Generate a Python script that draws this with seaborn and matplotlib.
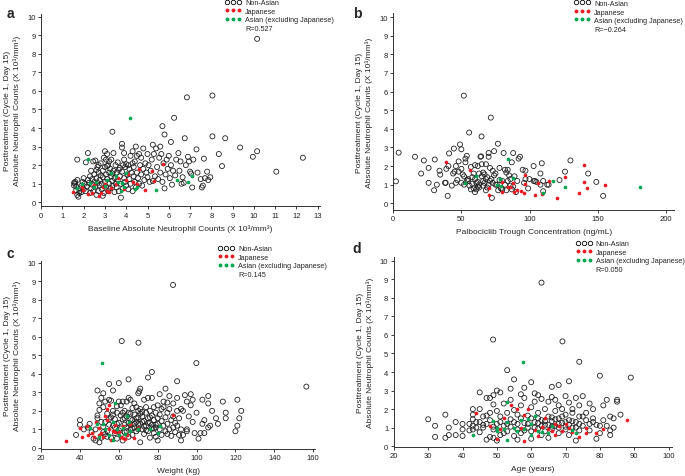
import pandas as pd
import matplotlib
matplotlib.use("Agg")
import matplotlib.pyplot as plt
from matplotlib.lines import Line2D
import seaborn as sns

# ---- panel a : baseline ANC vs posttreatment ANC ----
a_non_asian = [
    (1.55, 0.9), (1.6, 1.0), (1.6, 1.1), (1.65, 0.85), (1.7, 1.2), (1.7, 0.4), (1.75, 0.3), (1.8, 0.6),
    (1.8, 0.5), (1.85, 0.75), (1.9, 0.9), (1.95, 1.1), (1.9, 0.55), (2.0, 0.7), (2.0, 1.3), (1.55, 1.05),
    (1.65, 0.65), (2.05, 1.0), (2.1, 2.15), (2.1, 0.6), (2.15, 0.85), (2.2, 1.2), (2.25, 1.05), (2.3, 0.5),
    (2.3, 1.4), (2.35, 0.75), (2.4, 1.25), (2.4, 0.95), (2.45, 0.6), (2.5, 1.5), (2.5, 1.1), (2.45, 2.2),
    (2.55, 2.25), (2.2, 2.65), (1.7, 2.3), (2.35, 1.7), (2.55, 0.85), (2.6, 1.3), (2.6, 0.4), (2.65, 1.9),
    (2.65, 1.05), (2.7, 0.6), (2.7, 1.6), (2.75, 1.2), (2.75, 0.9), (2.8, 1.45), (2.8, 2.1), (2.85, 0.7),
    (2.85, 1.0), (2.9, 1.7), (2.9, 1.35), (2.95, 2.4), (2.95, 0.5), (3.0, 1.1), (3.0, 2.75), (3.0, 1.9),
    (2.9, 0.35), (2.6, 1.75), (2.7, 2.0), (3.05, 1.5), (3.05, 0.85), (3.1, 2.6), (3.1, 1.25), (3.15, 0.6),
    (3.15, 2.0), (3.2, 1.6), (3.2, 1.0), (3.25, 1.8), (3.25, 0.75), (3.3, 1.4), (3.3, 2.3), (3.35, 1.15),
    (3.35, 0.9), (3.4, 2.65), (3.4, 1.7), (3.45, 1.3), (3.45, 0.55), (3.5, 2.0), (3.5, 1.0), (3.1, 1.95),
    (3.2, 2.2), (3.35, 1.55), (3.05, 2.3), (3.55, 1.6), (3.55, 0.8), (3.6, 2.15), (3.6, 1.2), (3.65, 0.6),
    (3.7, 1.85), (3.7, 1.4), (3.75, 0.25), (3.75, 1.0), (3.8, 3.15), (3.8, 2.95), (3.8, 1.65), (3.85, 2.0),
    (3.85, 0.75), (3.9, 2.65), (3.9, 1.3), (3.95, 1.9), (3.95, 1.1), (4.0, 2.05), (4.0, 0.9), (3.65, 1.75),
    (3.9, 2.3), (4.05, 1.5), (4.1, 2.0), (4.1, 0.7), (4.15, 1.8), (4.15, 1.25), (4.2, 2.5), (4.2, 1.0),
    (4.25, 1.6), (4.3, 2.1), (4.3, 0.6), (4.35, 1.4), (4.35, 1.9), (4.4, 2.2), (4.4, 1.1), (4.45, 0.8),
    (4.5, 1.6), (4.5, 2.5), (4.45, 3.0), (4.3, 2.75), (4.55, 1.3), (4.6, 2.6), (4.6, 1.0), (4.65, 2.0),
    (4.7, 1.5), (4.7, 2.4), (4.75, 0.9), (4.8, 1.8), (4.8, 2.9), (4.85, 1.2), (4.9, 2.1), (4.95, 1.6),
    (5.0, 2.6), (5.0, 1.35), (5.05, 2.0), (5.1, 1.1), (5.15, 1.7), (5.2, 2.3), (5.25, 3.1), (5.3, 2.6),
    (5.35, 1.4), (5.4, 2.9), (5.45, 1.9), (5.5, 1.25), (5.55, 2.4), (5.6, 3.0), (5.6, 1.6), (5.65, 2.6),
    (5.7, 1.1), (5.75, 2.1), (5.8, 0.75), (5.85, 1.5), (5.9, 2.3), (5.95, 1.8), (5.7, 4.1), (5.8, 3.65),
    (5.25, 1.15), (6.0, 2.5), (6.05, 1.3), (6.1, 3.25), (6.1, 2.0), (6.15, 0.95), (6.2, 1.7), (6.25, 4.55),
    (6.3, 1.45), (6.35, 2.3), (6.45, 2.65), (6.5, 1.7), (6.55, 2.2), (6.6, 1.0), (6.65, 1.35), (6.7, 1.05),
    (6.75, 3.45), (6.8, 2.0), (6.85, 5.65), (6.9, 2.45), (6.95, 2.2), (3.35, 3.8), (7.0, 1.65), (7.05, 1.55),
    (7.1, 0.8), (7.15, 2.3), (7.3, 2.85), (7.35, 1.6), (7.5, 1.25), (7.55, 0.8), (7.6, 0.9), (7.65, 2.35),
    (7.7, 1.3), (7.8, 1.65), (7.85, 1.2), (7.95, 1.35), (8.05, 3.55), (8.05, 5.75), (8.35, 2.6), (8.5, 1.95),
    (8.65, 3.45), (9.35, 2.95), (9.95, 2.45), (10.15, 2.75), (10.15, 8.8), (11.05, 1.65), (12.3, 2.4),
]
a_japanese = [
    (1.5, 0.55), (1.9, 0.8), (1.95, 0.65), (2.2, 0.45), (2.4, 0.5), (2.5, 0.95), (2.7, 0.35), (2.8, 0.5),
    (2.9, 0.8), (3.1, 0.6), (3.2, 0.55), (3.0, 1.0), (3.3, 0.75), (3.6, 1.3), (3.9, 0.7), (4.0, 1.2),
    (4.3, 1.1), (4.6, 1.8), (4.9, 0.65), (5.2, 1.7), (5.3, 1.15), (5.75, 2.05), (4.1, 1.55), (3.5, 1.0),
    (2.6, 1.1), (4.5, 1.0),
]
a_asian = [
    (4.2, 4.55), (2.2, 2.35), (1.7, 0.75), (1.9, 1.0), (2.3, 1.05), (2.6, 1.1), (3.0, 0.9), (3.3, 1.6),
    (3.5, 1.4), (3.6, 1.1), (3.8, 1.05), (3.9, 0.85), (3.75, 0.6), (4.4, 0.7), (4.5, 0.85), (4.0, 1.6),
    (5.4, 0.65), (6.4, 1.2), (6.9, 1.1), (7.1, 1.4), (3.1, 1.2), (2.5, 0.8),
]

# ---- panel b : palbociclib trough concentration ----
b_non_asian = [
    (2, 1.18), (4, 2.72), (16, 2.5), (20.5, 1.6), (22.5, 2.3), (26, 1.9), (26, 1.1), (30.5, 2.35),
    (30, 0.7), (32, 1.0), (34, 1.75), (34.5, 1.54), (38, 1.1), (38.5, 1.1), (39, 1.85), (40, 0.4),
    (40.5, 2.0), (41, 2.68), (43, 0.95), (44, 1.6), (45, 1.7), (44.5, 2.94), (46, 1.1), (47, 1.25),
    (48, 2.25), (49, 3.16), (50, 2.9), (50, 1.85), (51, 1.55), (50, 1.1), (52, 1.0), (51.8, 5.78),
    (53, 2.2), (53, 2.4), (54, 2.55), (55, 1.2), (55, 1.3), (55.7, 3.8), (57, 0.75), (58, 1.4),
    (59, 0.8), (59, 1.6), (60, 0.6), (60, 2.05), (61, 1.1), (62, 0.9), (62, 2.0), (63, 1.0),
    (63, 0.85), (64, 2.5), (64.5, 2.52), (64.8, 3.59), (65, 2.1), (66, 1.65), (67, 1.1), (68, 2.1),
    (68, 1.3), (69, 1.4), (70, 2.5), (70, 2.7), (71, 1.9), (71.6, 4.6), (72, 1.3), (72.4, 0.29),
    (73, 1.1), (74, 2.8), (75, 1.6), (76, 1.0), (76.8, 3.2), (78, 1.9), (79, 0.8), (80, 0.75),
    (81, 2.7), (82, 1.8), (83, 0.7), (84, 1.2), (85, 1.5), (86, 0.95), (87, 2.2), (88, 2.7),
    (89, 1.45), (90, 0.6), (92, 2.4), (93, 2.5), (95, 1.8), (96, 1.1), (97, 1.3), (99, 0.8),
    (103, 2.0), (103, 1.2), (104, 1.2), (108, 1.0), (108, 1.6), (109, 2.15), (110, 0.65), (110, 1.2),
    (113, 1.0), (114, 1.0), (122, 1.25), (126, 1.7), (130, 2.3), (143, 1.6), (149, 1.15), (154, 0.4),
    (56, 0.95), (58, 1.05), (61, 0.75), (63, 1.6), (66, 0.95), (67, 1.55), (69, 0.85), (71, 1.2),
    (74, 1.5), (77, 0.7), (78, 1.25), (80, 1.2), (82, 1.0), (84, 1.8), (86, 1.3), (88, 0.9),
    (91, 1.2), (57, 1.95), (60, 1.3), (62, 1.15), (65, 1.45), (66, 1.2), (68, 0.7), (75, 1.0),
    (48, 1.7), (46, 2.0), (52, 1.45), (54, 1.25), (70, 1.0), (73, 1.75), (83, 1.65), (87, 0.75),
    (100, 1.3), (105, 1.15), (97, 1.75),
]
b_japanese = [
    (39, 2.2), (56, 1.8), (70, 0.8), (70.5, 0.45), (80, 0.6), (80, 1.15), (84, 0.9), (86, 0.85),
    (88, 1.1), (88.5, 0.6), (91, 0.7), (94, 0.65), (96, 0.55), (97, 1.5), (97, 1.05), (104, 0.45),
    (106, 1.1), (109, 0.5), (114, 1.2), (120, 0.3), (126, 1.4), (136, 0.55), (140, 2.05), (140, 1.15),
    (142, 0.8), (155, 1.0),
]
b_asian = [
    (53, 1.1), (61, 1.45), (76, 1.0), (78, 1.3), (79, 0.95), (84, 2.4), (88, 1.35), (110, 0.55),
    (117, 1.2), (126, 0.85), (181, 0.9),
]

# ---- panel c : weight ----
c_non_asian = [
    (87.9, 8.8), (61.5, 5.77), (70.1, 5.68), (99.9, 4.58), (77, 4.1), (75, 3.8), (65, 3.7), (60, 3.5),
    (55, 3.45), (90, 3.6), (84, 3.2), (71, 3.2), (70.5, 3.05), (49, 3.1), (52, 2.95), (156.5, 3.31),
    (57, 3.1), (51, 2.7), (50, 2.4), (121, 2.6), (122, 1.6), (123, 2.0), (121, 1.2), (120, 0.9),
    (113.5, 2.5), (115, 1.9), (115, 1.6), (110, 1.6), (111, 1.3), (108, 2.0), (106, 2.8), (106, 2.4),
    (103, 2.6), (104, 1.5), (107, 1.2), (106, 1.1), (104, 0.8), (102, 0.8), (101, 0.5), (99, 0.8),
    (98, 1.4), (97, 2.9), (98, 2.6), (97, 2.3), (96, 1.7), (95, 2.5), (94, 2.85), (93, 2.0),
    (92, 2.1), (95, 0.9), (95, 1.0), (93, 0.7), (92, 0.4), (100, 1.9), (103, 1.3), (38, 0.7),
    (40, 1.5), (40, 1.25), (42, 1.0), (44, 1.1), (45, 1.3), (46, 0.85), (47, 0.5), (48, 0.4),
    (48, 1.0), (49, 1.6), (49, 1.75), (50, 0.3), (50, 2.05), (51, 1.4), (51, 0.55), (52, 2.2),
    (52, 1.15), (53, 0.75), (53, 2.5), (54, 0.9), (54, 1.85), (55, 2.6), (55, 1.25), (56, 2.55),
    (56, 1.65), (56, 0.55), (57, 2.0), (57, 1.2), (58, 0.8), (58, 1.55), (59, 2.25), (59, 1.9),
    (59, 0.5), (60, 1.35), (60, 2.5), (61, 1.05), (61, 1.75), (61, 2.3), (62, 0.4), (62, 1.55),
    (62, 2.5), (63, 1.25), (63, 2.0), (63, 0.85), (64, 1.7), (64, 1.1), (64, 2.5), (65, 0.6),
    (65, 2.7), (65, 1.35), (66, 1.85), (66, 1.0), (66, 2.6), (67, 1.5), (67, 2.15), (67, 0.7),
    (68, 1.1), (68, 1.8), (68, 2.4), (69, 0.9), (69, 1.4), (70, 1.65), (70, 2.0), (70, 1.0),
    (70, 2.95), (71, 1.3), (71, 0.3), (71, 2.1), (72, 1.7), (72, 1.0), (72, 1.95), (73, 1.45),
    (73, 2.6), (73, 0.75), (74, 1.2), (74, 1.9), (74, 2.2), (75, 1.6), (75, 0.9), (75, 2.7),
    (76, 1.35), (76, 2.0), (76, 0.55), (77, 1.75), (77, 1.05), (77, 2.7), (78, 1.5), (78, 0.8),
    (78, 2.2), (79, 1.25), (79, 1.9), (79, 0.6), (80, 1.6), (80, 2.3), (80, 0.4), (81, 1.0),
    (81, 1.8), (81, 2.9), (82, 1.45), (82, 2.1), (82, 0.7), (83, 1.2), (83, 2.5), (84, 1.65),
    (84, 0.9), (85, 1.9), (85, 1.3), (85, 0.75), (86, 2.1), (86, 1.0), (86, 2.8), (87, 1.5),
    (87, 0.65), (88, 1.7), (88, 1.1), (88, 2.4), (89, 1.35), (89, 0.85), (90, 2.0), (90, 1.2),
    (91, 1.6), (91, 0.7), (92, 1.0), (90, 2.7), (85, 2.45), (83, 2.2), (66, 1.25), (69, 1.6),
    (71, 1.85), (73, 1.15), (75, 1.35), (77, 1.25), (79, 1.1), (58, 1.1), (60, 0.95), (62, 1.9),
    (64, 0.9), (66, 1.55), (68, 1.3), (70, 1.3), (72, 1.4), (74, 0.95), (76, 1.65), (78, 1.05),
    (80, 1.3), (57, 1.8), (59, 1.3), (61, 0.7), (63, 1.6), (65, 1.9), (67, 1.05), (69, 2.2),
    (55, 1.55), (53, 1.4), (54, 0.6), (52, 0.85),
]
c_japanese = [
    (33, 0.35), (40, 1.1), (41, 0.6), (43.5, 1.2), (44, 0.7), (46, 0.8), (47, 0.6), (48.5, 1.4),
    (50, 1.1), (50, 0.7), (51, 0.8), (52, 0.6), (53, 1.7), (54, 2.1), (54, 1.5), (55, 1.0),
    (55, 2.3), (56, 0.4), (57, 0.9), (58, 0.85), (58, 1.25), (61, 0.6), (62, 0.55), (62, 1.2),
    (63, 0.5), (64, 0.7), (66, 1.3), (68, 0.55), (70, 1.1), (88, 1.8), (60, 0.85),
]
c_asian = [
    (51.5, 4.6), (45, 1.1), (49, 1.3), (50, 0.6), (52, 1.3), (53, 1.0), (55, 0.7), (57, 0.4),
    (57, 1.4), (58, 2.4), (59, 1.0), (60, 0.7), (62, 1.1), (63, 0.75), (64, 1.7), (65, 1.4),
    (66, 0.9), (70, 1.0), (76, 1.0), (80, 0.8), (81, 1.2),
]

# ---- panel d : age ----
d_non_asian = [
    (63, 8.82), (48.9, 5.75), (69.1, 5.65), (74, 4.55), (53, 4.1), (55, 3.6), (60, 3.45), (71, 3.5),
    (80, 3.8), (89, 3.7), (66, 3.2), (68, 3.3), (58, 3.15), (45, 2.9), (50, 3.0), (51, 2.9),
    (48, 2.6), (47, 2.6), (49, 2.75), (54, 3.1), (61, 2.85), (62, 2.75), (57, 2.8), (30, 1.45),
    (32, 1.1), (32, 0.5), (35, 1.7), (35, 0.45), (36, 1.0), (36, 0.6), (38, 1.3), (38, 0.6),
    (40, 1.2), (40, 0.9), (40, 0.55), (42, 1.2), (43, 2.0), (43, 1.7), (43, 1.45), (43, 1.1),
    (43, 0.9), (44, 1.0), (45, 2.0), (45, 1.3), (45, 0.75), (46, 1.6), (47, 1.2), (47, 0.35),
    (48, 0.5), (49, 2.25), (49, 0.45), (50, 0.3), (46, 1.0), (47, 1.65), (48, 1.4), (49, 1.05),
    (50, 1.9), (50, 1.2), (51, 1.6), (51, 0.6), (52, 2.3), (52, 1.1), (53, 1.8), (53, 0.8),
    (54, 1.45), (54, 2.5), (55, 0.55), (55, 1.95), (56, 1.2), (56, 1.7), (56, 0.35), (57, 2.2),
    (57, 0.7), (58, 1.25), (58, 2.6), (59, 1.0), (59, 1.65), (60, 0.4), (60, 2.1), (60, 1.5),
    (61, 1.3), (61, 2.4), (62, 0.95), (62, 1.8), (63, 1.4), (63, 2.55), (63, 0.6), (64, 1.15),
    (64, 2.0), (65, 1.6), (65, 0.45), (65, 2.4), (66, 1.35), (66, 2.65), (66, 0.9), (67, 1.9),
    (67, 1.1), (67, 2.5), (68, 1.5), (68, 0.7), (68, 2.2), (69, 1.25), (69, 2.0), (70, 1.7),
    (70, 0.9), (70, 2.7), (71, 1.4), (71, 2.35), (71, 0.6), (72, 1.8), (72, 1.0), (72, 2.0),
    (73, 1.3), (73, 0.3), (73, 2.6), (74, 1.6), (74, 0.85), (74, 2.2), (75, 1.1), (75, 2.7),
    (75, 1.6), (76, 1.4), (76, 1.8), (77, 2.3), (77, 1.2), (77, 0.85), (78, 2.0), (78, 1.5),
    (78, 1.3), (79, 0.4), (80, 1.1), (81, 2.2), (82, 2.5), (83, 1.6), (83, 0.6), (83, 0.85),
    (84, 1.5), (84, 1.0), (85, 2.5), (85, 2.4), (86, 1.7), (59, 1.2), (61, 1.0), (62, 1.5),
    (64, 1.35), (66, 1.05), (68, 1.2), (70, 1.3), (72, 1.35), (74, 1.2), (57, 1.5), (55, 1.3),
    (53, 1.2), (51, 1.3), (49, 0.9), (58, 0.85), (60, 0.8), (62, 1.25), (64, 0.8), (66, 1.55),
    (68, 1.0), (70, 1.05), (67, 1.45), (63, 1.1), (65, 1.15), (69, 1.6), (71, 1.15), (73, 1.0),
    (56, 0.9), (54, 1.05), (52, 0.7), (44, 1.3), (42, 0.85), (46, 1.15), (48, 1.8), (79, 1.15),
    (80, 0.7), (81, 1.4), (82, 1.1),
]
d_japanese = [
    (44, 1.8), (48, 1.1), (50, 0.4), (51, 0.9), (52, 1.5), (54, 2.2), (56, 2.0), (57, 1.0),
    (58, 1.7), (58, 0.3), (59, 2.0), (61, 0.85), (62, 0.55), (63, 1.05), (64, 1.5), (66, 0.8),
    (67, 1.2), (67, 0.6), (68, 1.1), (69, 0.8), (70, 1.2), (72, 0.75), (74, 0.5), (76, 1.0),
    (76, 0.7), (79, 0.7), (81, 0.9), (88, 1.4), (65, 0.9), (71, 1.0),
]
d_asian = [
    (43, 0.6), (49, 1.35), (50, 0.8), (50, 1.0), (52, 0.9), (53, 2.4), (53, 1.3), (53, 0.35),
    (55, 1.0), (56, 0.8), (57.5, 4.55), (57, 1.4), (58, 0.9), (59, 1.45), (60, 1.2), (61, 1.6),
    (62, 0.8), (63, 0.75), (65, 0.7), (66, 1.1), (72, 0.85), (73, 0.7), (60, 0.6),
]

r_values = ["R=0.527", "R=\u22120.264", "R=0.145", "R=0.050"]
x_labels = [
    "Baseline Absolute Neutrophil Counts (X 10\u00b3/mm\u00b3)",
    "Palbociclib Trough Concentration (ng/mL)",
    "Weight (kg)",
    "Age (years)",
]
y_label = "Posttreatment (Cycle 1, Day 15)\nAbsolute Neutrophil Counts (X 10\u00b3/mm\u00b3)"
group_names = ["Non-Asian", "Japanese", "Asian (excluding Japanese)"]

RED = "#ec1c24"
GREEN = "#00a651"

sns.set_style("ticks")
plt.rcParams["font.family"] = ["Liberation Sans", "DejaVu Sans"]

fig = plt.figure(figsize=(6.85, 4.77), dpi=100)

# axes boxes in figure fractions, x limits, x ticks, y limits
panels = [
    ("a", [0.060, 0.566, 0.407, 0.403], (0, 13.1), list(range(0, 14)), (-0.2, 10.15),
     a_non_asian, a_japanese, a_asian, (0.328, 1.0), (0.010, 0.985)),
    ("b", [0.574, 0.558, 0.410, 0.412], (0, 206), [0, 50, 100, 150, 200], (-0.35, 10.2),
     b_non_asian, b_japanese, b_asian, (0.838, 0.998), (0.515, 0.985)),
    ("c", [0.060, 0.057, 0.400, 0.394], (20, 161), list(range(20, 161, 20)), (-0.05, 10.1),
     c_non_asian, c_japanese, c_asian, (0.318, 0.484), (0.010, 0.482)),
    ("d", [0.575, 0.061, 0.406, 0.398], (20, 101), list(range(20, 101, 10)), (-0.04, 10.2),
     d_non_asian, d_japanese, d_asian, (0.840, 0.494), (0.515, 0.493)),
]

for i, (letter, box, xlim, xticks, ylim, non, jap, asi, leg_pos, let_pos) in enumerate(panels):
    ax = fig.add_axes(box)
    non_df = pd.DataFrame(non, columns=["x", "y"])
    jap_df = pd.DataFrame(jap, columns=["x", "y"])
    asi_df = pd.DataFrame(asi, columns=["x", "y"])

    sns.scatterplot(data=non_df, x="x", y="y", ax=ax, s=13, marker="o",
                    facecolor="none", edgecolor="#222222", linewidth=0.6, legend=False, zorder=2)
    sns.scatterplot(data=jap_df, x="x", y="y", ax=ax, s=7, marker="o",
                    color=RED, linewidth=0, legend=False, zorder=3)
    sns.scatterplot(data=asi_df, x="x", y="y", ax=ax, s=7, marker="o",
                    color=GREEN, linewidth=0, legend=False, zorder=3)

    ax.set_xlim(*xlim)
    ax.set_ylim(*ylim)
    ax.set_xticks(xticks)
    ax.set_yticks(range(0, 11))
    ax.tick_params(labelsize=5.5, length=2.5, width=0.6, pad=1.5, colors="#222222")
    for side in ["left", "bottom"]:
        ax.spines[side].set_linewidth(0.7)
        ax.spines[side].set_color("#333333")
    sns.despine(ax=ax)

    ax.set_xlabel(x_labels[i], fontsize=6.0, labelpad=4)
    ax.set_ylabel(y_label, fontsize=6.0, labelpad=4.5, linespacing=1.35)

    handles = [
        Line2D([], [], marker="o", linestyle="none", markersize=3.2, markerfacecolor="none",
               markeredgecolor="black", markeredgewidth=0.6),
        Line2D([], [], marker="o", linestyle="none", markersize=2.8, markerfacecolor=RED,
               markeredgewidth=0),
        Line2D([], [], marker="o", linestyle="none", markersize=2.8, markerfacecolor=GREEN,
               markeredgewidth=0),
        Line2D([], [], linestyle="none", marker=None),
    ]
    ax.legend(handles, group_names + [r_values[i]], loc="upper left", bbox_to_anchor=leg_pos,
              bbox_transform=fig.transFigure, frameon=False, numpoints=3, fontsize=5.2,
              handlelength=2.3, handletextpad=0.5, labelspacing=0.2, borderpad=0,
              borderaxespad=0)

    fig.text(let_pos[0], let_pos[1], letter, fontsize=10, fontweight="bold", va="top", ha="left")

fig.savefig("out.png", dpi=100)
